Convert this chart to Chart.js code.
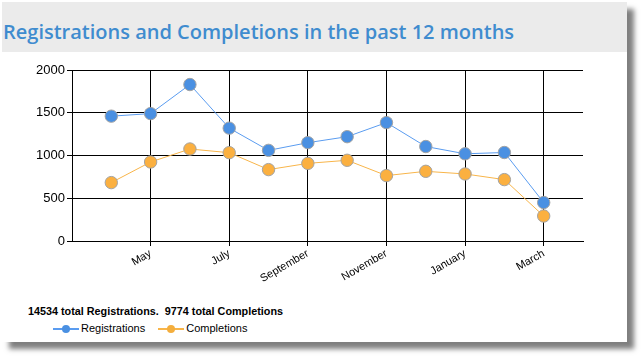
<!DOCTYPE html>
<html><head><meta charset="utf-8">
<script src="https://cdn.jsdelivr.net/npm/chart.js@4/dist/chart.umd.min.js"></script>
<style>
html,body{margin:0;padding:0;background:#fff;width:642px;height:357px;overflow:hidden;}
#panel{position:absolute;left:2px;top:2px;width:625px;height:340px;background:#fff;box-shadow:7px 7px 5px rgba(0,0,0,0.5);}
#band{position:absolute;left:0;top:0;width:625px;height:50px;background:#ebebeb;}
#title{position:absolute;left:1px;top:16px;font-family:"Open Sans",sans-serif;font-weight:600;font-size:20px;color:#3f8ccf;white-space:nowrap;}
#wrap{position:absolute;left:0;top:53px;width:625px;height:245px;}
#summary{position:absolute;left:26px;top:303px;font-family:"Liberation Sans",Arial,sans-serif;font-weight:bold;font-size:10.8px;color:#000;white-space:nowrap;}
#legend{position:absolute;left:51px;top:320px;font-family:"Liberation Sans",Arial,sans-serif;font-size:11px;color:#000;white-space:nowrap;}
.item{display:inline-block;margin-right:10px;}
.sym{display:inline-block;position:relative;width:26px;height:10px;vertical-align:middle;margin-right:2px;}
.sym .ln{position:absolute;left:0;top:4px;width:26px;height:2px;}
.sym .dt{position:absolute;left:9px;top:1px;width:8px;height:8px;border-radius:50%;}
</style></head><body>
<div id="panel">
  <div id="band"></div>
  <div id="title">Registrations and Completions in the past 12 months</div>
  <div id="wrap"><canvas id="c"></canvas></div>
  <div id="summary">14534 total Registrations.&nbsp; 9774 total Completions</div>
  <div id="legend">
    <span class="item"><span class="sym"><span class="ln" style="background:#5a9cf0"></span><span class="dt" style="background:#4a90e2"></span></span>Registrations</span>
    <span class="item"><span class="sym"><span class="ln" style="background:#f8b54a"></span><span class="dt" style="background:#f4ae3d"></span></span>Completions</span>
  </div>
</div>
<script>
const months = ['April','May','June','July','August','September','October','November','December','January','February','March'];
const registrations = [1460,1490,1830,1320,1060,1150,1220,1385,1105,1020,1035,450];
const completions = [683,924,1076,1033,835,908,944,765,815,784,718,292];
const tickMonths = [2,4,6,8,10,12];
const yTicks = [0,500,1000,1500,2000];

const toXY = arr => arr.map((v,i)=>({x:i+1,y:v}));

new Chart(document.getElementById('c'),{
  type:'line',
  data:{datasets:[
    {label:'Registrations',data:toXY(registrations),borderColor:'#5a9cf0',borderWidth:1,
     pointBackgroundColor:'#4a90e2',pointBorderColor:'#a3a3a3',pointBorderWidth:1,pointRadius:6.2,tension:0},
    {label:'Completions',data:toXY(completions),borderColor:'#f8b54a',borderWidth:1,
     pointBackgroundColor:'#fbb040',pointBorderColor:'#a3a3a3',pointBorderWidth:1,pointRadius:6.2,tension:0}
  ]},
  options:{
    responsive:true,maintainAspectRatio:false,animation:false,
    layout:{padding:{left:0,right:44,top:15,bottom:0}},
    plugins:{legend:{display:false},tooltip:{enabled:false}},
    scales:{
      x:{type:'linear',min:0,max:13,
        afterBuildTicks:ax=>{ax.ticks=tickMonths.map(v=>({value:v}));},
        afterFit:ax=>{ax.height=59;},
        grid:{color:'#000',lineWidth:1,tickLength:5,tickColor:'#000'},
        border:{color:'#000',width:1},
        ticks:{minRotation:30,maxRotation:30,autoSkip:false,padding:1,color:'#000',
          font:{family:'"Liberation Sans", Arial, sans-serif',size:11},
          callback:v=>months[v-1]}
      },
      y:{min:0,max:2000,
        afterBuildTicks:ax=>{ax.ticks=yTicks.map(v=>({value:v}));},
        afterFit:ax=>{ax.width=70;},
        grid:{color:'#000',lineWidth:1,tickLength:5,tickColor:'#000'},
        border:{color:'#000',width:1},
        ticks:{padding:2,color:'#000',font:{family:'"Liberation Sans", Arial, sans-serif',size:13},
          callback:v=>String(v)}
      }
    }
  }
});
</script>
</body></html>
